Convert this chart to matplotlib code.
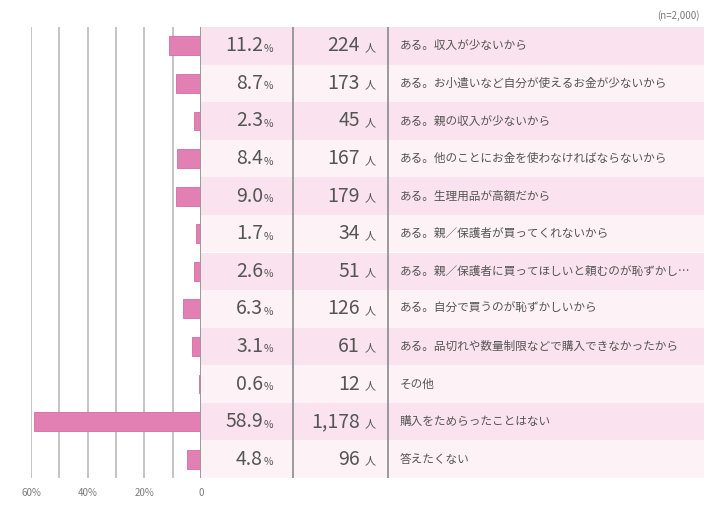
import matplotlib
matplotlib.use("Agg")
import matplotlib.pyplot as plt

plt.rcParams['font.family'] = ['Noto Sans CJK JP', 'DejaVu Sans']

# data
labels = [
    "ある。収入が少ないから",
    "ある。お小遣いなど自分が使えるお金が少ないから",
    "ある。親の収入が少ないから",
    "ある。他のことにお金を使わなければならないから",
    "ある。生理用品が高額だから",
    "ある。親／保護者が買ってくれないから",
    "ある。親／保護者に買ってほしいと頼むのが恥ずかし…",
    "ある。自分で買うのが恥ずかしいから",
    "ある。品切れや数量制限などで購入できなかったから",
    "その他",
    "購入をためらったことはない",
    "答えたくない",
]
pct = [11.2, 8.7, 2.3, 8.4, 9.0, 1.7, 2.6, 6.3, 3.1, 0.6, 58.9, 4.8]
counts = ["224", "173", "45", "167", "179", "34", "51", "126", "61", "12", "1,178", "96"]
tick_vals = [60, 40, 20, 0]

W, H = 720, 512
fig = plt.figure(figsize=(7.2, 5.12), dpi=100)
fig.patch.set_facecolor('white')

top, bot = 27, 478
n = len(labels)
rows = list(range(n))
txt = '#555555'

# bar part
ax = fig.add_axes([31 / W, 1 - bot / H, (201 - 31) / W, (bot - top) / H])
ax.set_xlim(60, 0)
ax.set_ylim(n - 0.5, -0.5)
for g in [60, 50, 40, 30, 20, 10]:
    ax.axvline(g, color='#c4c4c4', lw=1.4, zorder=0)
ax.axvline(0, color='#9a9a9a', lw=1.4, zorder=3)
ax.barh(rows, pct, height=0.5, color='#e27fb3', edgecolor='#d96aa5', lw=0.6, zorder=2, clip_on=False)
for s in ax.spines.values():
    s.set_visible(False)
ax.set_yticks([])
ax.set_xticks(tick_vals)
ax.set_xticklabels([f"{v}%" if v else "0" for v in tick_vals], fontsize=7, color='#7a7a7a')
ax.tick_params(axis='x', length=0, pad=7)

# table part
tx = fig.add_axes([201 / W, 1 - bot / H, (704 - 201) / W, (bot - top) / H])
tx.set_xlim(0, 503)
tx.set_ylim(n - 0.5, -0.5)
tx.axis('off')
row_cols = ['#fae3ee' if i % 2 == 0 else '#fdf3f7' for i in rows]
tx.barh(rows, [503] * n, left=0, height=1.0, color=row_cols, lw=0, zorder=0)
tx.axvline(92, color='#9a9a9a', lw=1.4, zorder=2)
tx.axvline(187, color='#9a9a9a', lw=1.4, zorder=2)

for i in rows:
    tx.text(62, i, f"{pct[i]:.1f}", ha='right', va='center', fontsize=14, color=txt)
    tx.text(63, i + 0.08, "%", ha='left', va='center', fontsize=7.5, color=txt)
    tx.text(159, i, counts[i], ha='right', va='center', fontsize=14, color=txt)
    tx.text(164, i + 0.06, "人", ha='left', va='center', fontsize=8, color=txt)
    tx.text(199, i, labels[i], ha='left', va='center', fontsize=8.4, color=txt)

fig.text(700 / W, 1 - 16 / H, "(n=2,000)", ha='right', va='center', fontsize=7, color='#7a7a7a')

fig.savefig("out.png", dpi=100)
